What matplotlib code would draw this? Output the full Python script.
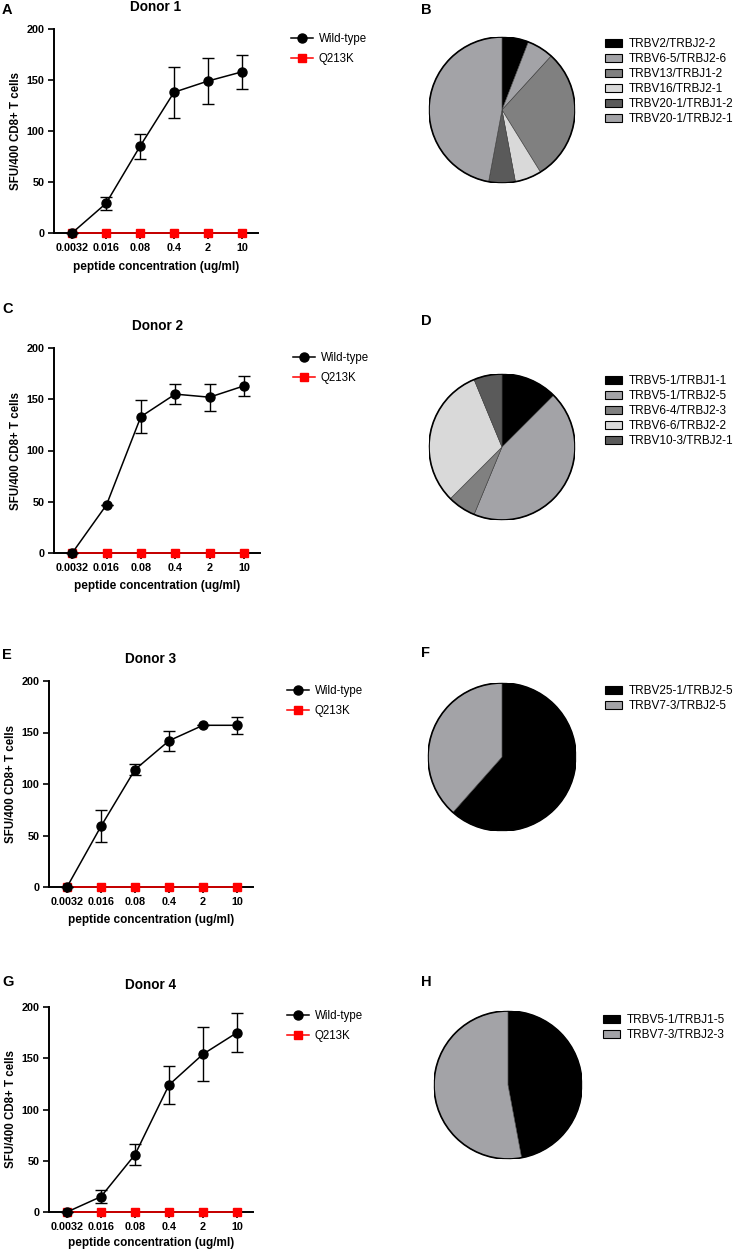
import matplotlib
matplotlib.use("Agg")
import matplotlib.pyplot as plt
from matplotlib.lines import Line2D
from matplotlib.patches import Patch, Circle

plt.rcParams["font.family"] = ["Liberation Sans", "DejaVu Sans"]

W, H = 736, 1251

# dose-response data (ELISpot)
conc_labels = ["0.0032", "0.016", "0.08", "0.4", "2", "10"]

donor1_wt = [0, 29, 85, 138, 149, 158]
donor1_err = [0, 6.5, 12.5, 25, 23, 17]
donor2_wt = [0, 47, 133, 155, 152, 163]
donor2_err = [0, 0, 16, 10, 13, 9.5]
donor3_wt = [0, 59, 114, 142, 157, 157]
donor3_err = [0, 15.5, 5, 9.5, 0, 8]
donor4_wt = [0, 15, 56, 124, 154, 175]
donor4_err = [0, 6, 10, 18.5, 26.5, 19]
q213k = [0, 0, 0, 0, 0, 0]

# TCR clonotype usage per donor
pie1_labels = ["TRBV2/TRBJ2-2", "TRBV6-5/TRBJ2-6", "TRBV13/TRBJ1-2",
               "TRBV16/TRBJ2-1", "TRBV20-1/TRBJ1-2", "TRBV20-1/TRBJ2-1"]
pie1_vals = [1, 1, 5, 1, 1, 8]
pie2_labels = ["TRBV5-1/TRBJ1-1", "TRBV5-1/TRBJ2-5", "TRBV6-4/TRBJ2-3",
               "TRBV6-6/TRBJ2-2", "TRBV10-3/TRBJ2-1"]
pie2_vals = [2, 7, 1, 5, 1]
pie3_labels = ["TRBV25-1/TRBJ2-5", "TRBV7-3/TRBJ2-5"]
pie3_vals = [8, 5]
pie4_labels = ["TRBV5-1/TRBJ1-5", "TRBV7-3/TRBJ2-3"]
pie4_vals = [8, 9]

BLACK = "#000000"
GRAY = "#a3a3a7"
MID = "#808080"
LIGHT = "#d9d9d9"
DARK = "#5a5a5a"
pie1_colors = [BLACK, GRAY, MID, LIGHT, DARK, GRAY]
pie2_colors = [BLACK, GRAY, MID, LIGHT, DARK]
pie3_colors = [BLACK, GRAY]
pie4_colors = [BLACK, GRAY]


def px_axes(fig, left, top, right, bottom):
    return fig.add_axes([left / W, 1 - bottom / H, (right - left) / W, (bottom - top) / H])


def fx(x, y):
    return (x / W, 1 - y / H)


def line_panel(fig, box, title, wt, err, leg_xy, xpad=6):
    ax = px_axes(fig, *box)
    x = list(range(len(conc_labels)))
    ax.plot(x, q213k, color="red", marker="s", ms=6, lw=1.1, clip_on=False, zorder=3)
    ax.errorbar(x, wt, yerr=err, color="black", marker="o", ms=6.5, lw=1.1,
                elinewidth=1.0, capsize=4, capthick=1.0, clip_on=False, zorder=4)
    ax.set_xlim(-0.53, 5.47)
    ax.set_ylim(0, 200)
    ax.set_yticks([0, 50, 100, 150, 200])
    ax.set_xticks(x)
    ax.set_xticklabels(conc_labels)
    for s in ["top", "right"]:
        ax.spines[s].set_visible(False)
    for s in ["left", "bottom"]:
        ax.spines[s].set_linewidth(1.4)
    ax.tick_params(width=1.2, length=4, labelsize=7.8, pad=3)
    for t in ax.get_xticklabels() + ax.get_yticklabels():
        t.set_fontweight("bold")
    ax.set_xlabel("peptide concentration (ug/ml)", fontsize=8.5, fontweight="bold", labelpad=xpad)
    ax.set_ylabel("SFU/400 CD8+ T cells", fontsize=8.3, fontweight="bold", labelpad=3)
    ax.set_title(title, fontsize=9.8, fontweight="bold", pad=13)
    handles = [Line2D([], [], color="black", marker="o", ms=6.5, lw=1.1),
               Line2D([], [], color="red", marker="s", ms=6, lw=1.1)]
    fig.legend(handles, ["Wild-type", "Q213K"], loc="upper left",
               bbox_to_anchor=fx(*leg_xy), frameon=False, fontsize=8.3,
               handlelength=1.9, handletextpad=0.5, labelspacing=0.7,
               borderpad=0, borderaxespad=0)
    return ax


def pie_panel(fig, cx, cy, r, vals, colors, labels, leg_xy):
    ax = px_axes(fig, cx - r, cy - r, cx + r, cy + r)
    ax.pie(vals, colors=colors, startangle=90, counterclock=False, radius=1,
           wedgeprops=dict(edgecolor="#3a3a3a", linewidth=0.4))
    ax.add_patch(Circle((0, 0), 1, fill=False, ec="black", lw=1.2))
    ax.set_xlim(-1, 1)
    ax.set_ylim(-1, 1)
    ax.set_aspect("equal")
    ax.axis("off")
    handles = [Patch(facecolor=c, edgecolor="black", linewidth=0.8) for c in colors]
    fig.legend(handles, labels, loc="upper left", bbox_to_anchor=fx(*leg_xy),
               frameon=False, fontsize=8.5, handlelength=1.45, handleheight=0.6,
               handletextpad=0.55, labelspacing=0.26, borderpad=0, borderaxespad=0)


fig = plt.figure(figsize=(W / 100, H / 100), dpi=100)

line_panel(fig, (54, 29, 258, 233), "Donor 1", donor1_wt, donor1_err, (291, 33))
line_panel(fig, (54, 348, 260, 553), "Donor 2", donor2_wt, donor2_err, (293, 352), xpad=5)
line_panel(fig, (49, 681, 253, 887), "Donor 3", donor3_wt, donor3_err, (287, 685), xpad=5)
line_panel(fig, (49, 1007, 253, 1212), "Donor 4", donor4_wt, donor4_err, (287, 1010), xpad=3.5)

pie_panel(fig, 502, 110, 73, pie1_vals, pie1_colors, pie1_labels, (605, 38))
pie_panel(fig, 502, 447, 73, pie2_vals, pie2_colors, pie2_labels, (605, 375))
pie_panel(fig, 502, 757, 74, pie3_vals, pie3_colors, pie3_labels, (605, 685))
pie_panel(fig, 508, 1085, 74, pie4_vals, pie4_colors, pie4_labels, (603, 1014))

# panel letters
for letter, x, y in [("A", 2, 10), ("B", 421, 10), ("C", 2, 309), ("D", 421, 321),
                     ("E", 2, 655), ("F", 421, 653), ("G", 2, 982), ("H", 421, 982)]:
    fig.text(x / W, 1 - y / H, letter, fontsize=10.5, fontweight="bold", va="center", ha="left")

fig.savefig("out.png", dpi=100)
